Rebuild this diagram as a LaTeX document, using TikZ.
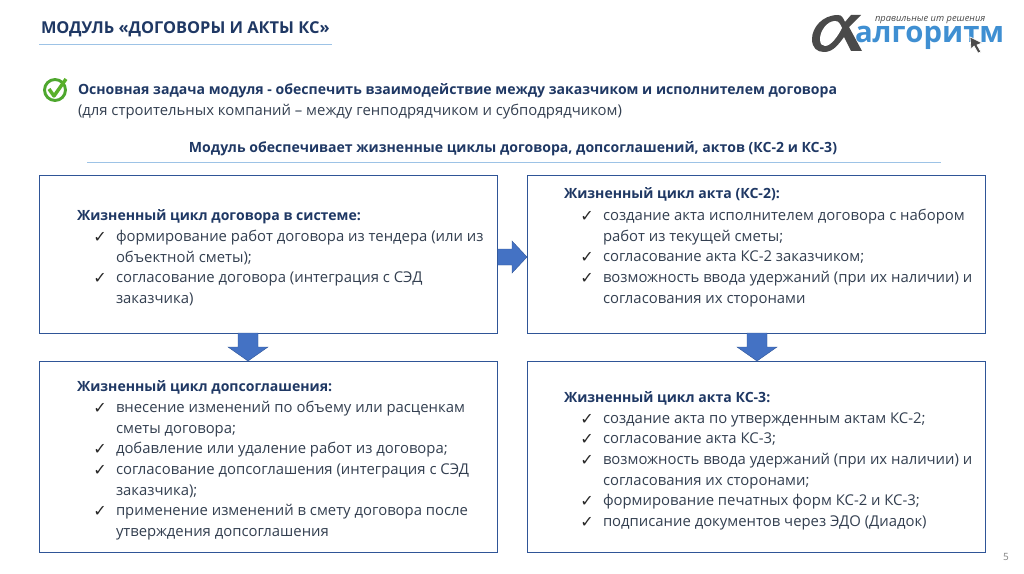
\documentclass[tikz,border=0pt]{standalone}
\usepackage{fontspec}
\setmainfont{Open Sans}
\newfontfamily\chkfont{DejaVu Sans}
\definecolor{navy}{HTML}{1F3864}
\definecolor{bodytxt}{HTML}{333F50}
\definecolor{boxline}{HTML}{2F5597}
\definecolor{rulec}{HTML}{9DC3E6}
\definecolor{arrowc}{HTML}{4472C4}
\definecolor{logoblue}{HTML}{3F8FD2}
\definecolor{logogray}{HTML}{4A4A4A}
\definecolor{okgreen}{HTML}{4EA72E}
\tikzset{
  pane/.style={draw=boxline,line width=0.8pt,fill=white,minimum width=343.2pt,inner sep=0pt,anchor=north west},
  rulel/.style={draw=rulec,line width=0.7pt},
  flow/.style={fill=arrowc,draw=boxline,line width=0.3pt},
  txt/.style={anchor=base west,inner sep=0pt,outer sep=0pt,yshift=-0.75pt,font=\fontsize{11.15pt}{13pt}\selectfont,text=bodytxt},
  head/.style={txt,font=\fontsize{10.55pt}{12pt}\selectfont\bfseries,text=navy},
  chk/.style={anchor=base west,inner sep=0pt,yshift=-0.75pt,font=\chkfont\fontsize{12pt}{13pt}\selectfont,text=black!85},
}
\newcommand{\bul}[3]{\node[chk] at (#1+2,#2+1) {✓}; \node[txt] at (#1+25,#2) {#3};}
\newcommand{\cont}[3]{\node[txt] at (#1+25,#2) {#3};}
\begin{document}
\begin{tikzpicture}[x=0.75pt,y=-0.75pt]
\useasboundingbox (0,0) rectangle (1024,574);
% title
\node[txt,font=\fontsize{12.3pt}{14pt}\selectfont\bfseries,text=navy] (title) at (41,33) {МОДУЛЬ «ДОГОВОРЫ И АКТЫ КС»};
\coordinate (tl) at (39,44); \coordinate (tr) at (332,44);
\draw[rulel] (tl) -- (tr);
% check icon
\coordinate (ic) at (55,90);
\draw[draw=okgreen,line width=2.2pt,fill=white] (ic) circle (10.5);
\draw[draw=okgreen!90!lime,line width=2.6pt,line join=round] (49,89) -- (54,96) -- (66,79);
% intro
\node[head] (t1) at (78,94) {Основная задача модуля - обеспечить взаимодействие между заказчиком и исполнителем договора};
\node[txt] (t2) at (78,115) {(для строительных компаний – между генподрядчиком и субподрядчиком)};
\node[head,anchor=base] (t3) at (513,151) {Модуль обеспечивает жизненные циклы договора, допсоглашений, актов (КС-2 и КС-3)};
\coordinate (rl) at (87,162); \coordinate (rr) at (941,162);
\draw[rulel] (rl) -- (rr);
% boxes
\node[pane,minimum height=118.5pt] (b1) at (39,175) {};
\node[pane,minimum height=118.5pt] (b2) at (527,175) {};
\node[pane,minimum height=143.25pt] (b3) at (39,361) {};
\node[pane,minimum height=143.25pt] (b4) at (527,361) {};
% arrows
\draw[flow] (b1.east |- 0,249) -- (512,249) -- (512,241) -- (b2.west |- 0,257) -- (512,273) -- (512,265) -- (b1.east |- 0,265) -- cycle;
\draw[flow] (238,333) -- (238,347) -- (228,347) -- (248,361) -- (268,347) -- (258,347) -- (258,333) -- cycle;
\draw[flow] (747,333) -- (747,347) -- (737,347) -- (757,361) -- (777,347) -- (767,347) -- (767,333) -- cycle;
% box 1
\node[head] (h1) at (77,219) {Жизненный цикл договора в системе:};
\bul{91}{240}{формирование работ договора из тендера (или из}
\cont{91}{261}{объектной сметы);}
\bul{91}{281}{согласование договора (интеграция с СЭД}
\cont{91}{302}{заказчика)}
% box 2
\node[head] (h2) at (564,198) {Жизненный цикл акта (КС-2):};
\bul{578}{219}{создание акта исполнителем договора с набором}
\cont{578}{240}{работ из текущей сметы;}
\bul{578}{260}{согласование акта КС-2 заказчиком;}
\bul{578}{281}{возможность ввода удержаний (при их наличии) и}
\cont{578}{302}{согласования их сторонами}
% box 3
\node[head] (h3) at (77,390) {Жизненный цикл допсоглашения:};
\bul{91}{411}{внесение изменений по объему или расценкам}
\cont{91}{432}{сметы договора;}
\bul{91}{452}{добавление или удаление работ из договора;}
\bul{91}{473}{согласование допсоглашения (интеграция с СЭД}
\cont{91}{494}{заказчика);}
\bul{91}{514}{применение изменений в смету договора после}
\cont{91}{535}{утверждения допсоглашения}
% box 4
\node[head] (h4) at (564,401) {Жизненный цикл акта КС-3:};
\bul{578}{422}{создание акта по утвержденным актам КС-2;}
\bul{578}{442}{согласование акта КС-3;}
\bul{578}{463}{возможность ввода удержаний (при их наличии) и}
\cont{578}{484}{согласования их сторонами;}
\bul{578}{504}{формирование печатных форм КС-2 и КС-3;}
\bul{578}{525}{подписание документов через ЭДО (Диадок)}
% logo
\fill[logogray] (838,15) .. controls (822,15) and (812,28) .. (812,39) .. controls (812,48) and (817,52) .. (824,52) .. controls (833,52) and (838,45) .. (844,37) -- (851,51) -- (862,51) -- (849,27) -- (861,15) -- (851,15) -- (845,22) .. controls (843,18) and (842,15) .. (838,15) -- cycle;
\fill[white] (835,21) .. controls (827,21) and (820,31) .. (820,39) .. controls (820,44) and (822,46) .. (825,46) .. controls (831,46) and (838,36) .. (842,28) .. controls (840,24) and (839,21) .. (835,21) -- cycle;
\node[txt,font=\fontsize{7pt}{8pt}\selectfont\itshape,text=logogray] (slog) at (875,21) {правильные ит решения};
\node[txt,font=\fontsize{22pt}{24pt}\selectfont\bfseries,text=logoblue] (logo) at (855,42) {алгоритм};
\draw[fill=logogray,draw=white,line width=0.5pt] (970,37) -- (982,43) -- (977,45) -- (981,52) -- (978,53) -- (974,46) -- (971,49) -- cycle;
% page number
\node[txt,font=\fontsize{7.5pt}{9pt}\selectfont,text=gray] (pg) at (1003,559) {5};
\end{tikzpicture}
\end{document}
